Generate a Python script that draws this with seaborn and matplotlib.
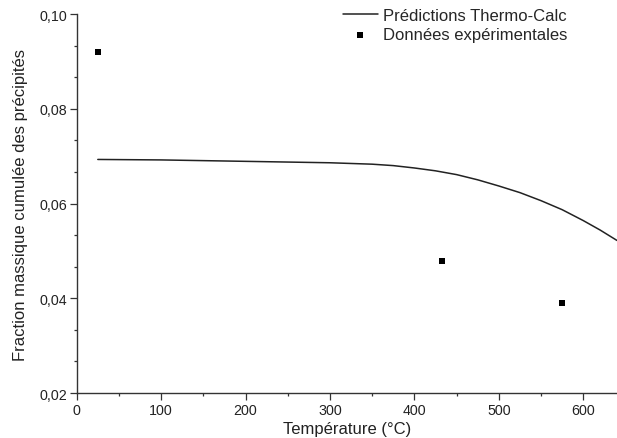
import numpy as np
import pandas as pd
import matplotlib
matplotlib.use('Agg')
import matplotlib.pyplot as plt
import seaborn as sns
from matplotlib.ticker import AutoMinorLocator, FuncFormatter

# Thermo-Calc prediction curve
calc_temp = [25, 100, 200, 300, 350, 375, 400, 425, 450, 475, 500, 525, 550, 575, 600, 620, 640]
calc_frac = [0.0693, 0.0692, 0.0689, 0.0686, 0.0683, 0.0680, 0.0675, 0.0669, 0.0661, 0.0650,
             0.0637, 0.0623, 0.0606, 0.0587, 0.0564, 0.0544, 0.0522]

# experimental points
exp_temp = [25, 433, 575]
exp_frac = [0.092, 0.0478, 0.0389]

sns.set_style('ticks')
plt.rcParams['font.family'] = ['Liberation Sans', 'DejaVu Sans']

fig = plt.figure(figsize=(6.17, 4.39), dpi=100)
ax = fig.add_axes([0.1243, 0.1025, 0.8757, 0.8633])

sns.lineplot(x=calc_temp, y=calc_frac, ax=ax, color='#222222', linewidth=1.1,
             label='Prédictions Thermo-Calc')
sns.scatterplot(x=exp_temp, y=exp_frac, ax=ax, marker='s', s=22, color='black',
                edgecolor='black', linewidth=0, label='Données expérimentales')

ax.set_xlim(0, 640)
ax.set_ylim(0.02, 0.10)
ax.set_xticks([0, 100, 200, 300, 400, 500, 600])
ax.set_yticks([0.02, 0.04, 0.06, 0.08, 0.10])
ax.xaxis.set_minor_locator(AutoMinorLocator(2))
ax.yaxis.set_minor_locator(AutoMinorLocator(3))
ax.yaxis.set_major_formatter(FuncFormatter(lambda v, p: f'{v:.2f}'.replace('.', ',')))

ax.tick_params(which='major', length=5, width=0.9, color='#333333', labelsize=10.3,
               labelcolor='#222222', pad=2)
ax.tick_params(which='minor', length=2.5, width=0.9, color='#333333')
for s in ['left', 'bottom']:
    ax.spines[s].set_color('#333333')
    ax.spines[s].set_linewidth(1.0)
sns.despine(ax=ax)

ax.set_xlabel('Température (°C)', fontsize=12, color='#222222', labelpad=3)
ax.set_ylabel('Fraction massique cumulée des précipités', fontsize=12, color='#222222', labelpad=8)

ax.legend(loc='upper right', bbox_to_anchor=(0.931, 0.995), bbox_transform=fig.transFigure,
          frameon=False, fontsize=12, handlelength=2.15, handletextpad=0.3,
          labelspacing=0.25, borderaxespad=0)

fig.savefig('out.png', dpi=100)
